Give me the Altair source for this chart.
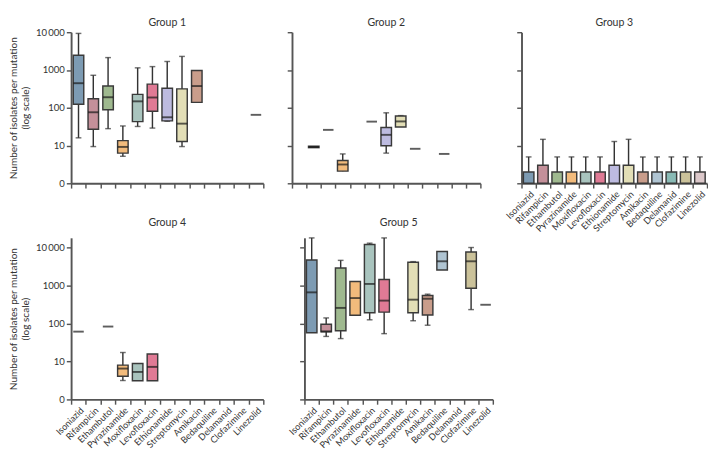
import altair as alt
import pandas as pd

drugs = ["Isoniazid", "Rifampicin", "Ethambutol", "Pyrazinamide", "Moxifloxacin",
         "Levofloxacin", "Ethionamide", "Streptomycin", "Amikacin", "Bedaquiline",
         "Delamanid", "Clofazimine", "Linezolid"]
colors = ["#7D9BB3", "#C4909A", "#9FB98F", "#F2BB7C", "#A9C4BE", "#E07A95", "#BDBBE0",
          "#E2DEB6", "#C99D8B", "#AFC4D2", "#89BAB5", "#CBC29A", "#DCC8CA"]
group_titles = ["Group 1", "Group 2", "Group 3", "Group 4", "Group 5"]

N = None
# Group 1 box statistics (min, q1, median, q3, max) per drug
g1_min = [16, 9.4, 28, 5.2, 32, 29, 44, 9.4, 139, N, N, N, 65]
g1_q1 = [124, 27, 89, 6.3, 43, 81, 45, 12.8, 139, N, N, N, 65]
g1_med = [447, 76, 190, 9.2, 148, 187, 56, 38, 376, N, N, N, 65]
g1_q3 = [2460, 173, 376, 13.5, 226, 422, 328, 316, 970, N, N, N, 65]
g1_max = [9300, 725, 2130, 33, 1140, 1230, 1680, 2290, 970, N, N, N, 65]

# Group 2
g2_min = [N, 8.8, 26, 2.1, N, 43, 6.3, 31, 8.2, N, 6.0, N, N]
g2_q1 = [N, 8.8, 26, 2.1, N, 43, 9.9, 31, 8.2, N, 6.0, N, N]
g2_med = [N, 9.2, 26, 3.15, N, 43, 19.2, 43.5, 8.2, N, 6.0, N, N]
g2_q3 = [N, 9.6, 26, 4.0, N, 43, 30, 60.5, 8.2, N, 6.0, N, N]
g2_max = [N, 9.6, 26, 6.0, N, 43, 73.5, 62, 8.2, N, 6.0, N, N]

# Group 3 (bars with upper error)
g3_val = [2, 3, 2, 2, 2, 2, 3, 3, 2, 2, 2, 2, 2]
g3_err = [5, 14.6, 5, 5, 5, 5, 12.8, 14.6, 5, 5, 5, 5, 5]

# Group 4
g4_min = [61, N, 83, 3.15, 3.1, 3.1, N, N, N, N, N, N, N]
g4_q1 = [61, N, 83, 4.1, 3.1, 3.1, N, N, N, N, N, N, N]
g4_med = [61, N, 83, 6.5, 5.3, 7.2, N, N, N, N, N, N, N]
g4_q3 = [61, N, 83, 8.0, 8.8, 15.7, N, N, N, N, N, N, N]
g4_max = [61, N, 83, 17.2, 8.8, 15.7, N, N, N, N, N, N, N]

# Group 5
g5_min = [57, 45.6, 40, 164, 125, 54, N, 118, 90, 2560, N, 232, 311]
g5_q1 = [57, 60, 64.6, 164, 191, 199, N, 191, 167, 2560, N, 850, 311]
g5_med = [660, 62, 257, 467, 1100, 400, N, 424, 448, 4340, N, 4340, 311]
g5_q3 = [4700, 95.6, 2890, 1280, 12000, 1436, N, 4100, 548, 7900, N, 7600, 311]
g5_max = [17900, 140, 4590, 1280, 13000, 17900, N, 4250, 590, 7900, N, 10000, 311]

yticks = [1, 10, 100, 1000, 10000]
LABEL_EXPR = ("datum.value == 1 ? '0' : datum.value == 10000 ? '10\u2009000' : "
              "format(datum.value, 'd')")
FONT = "Lato"
AXC = "#555555"

color_scale = alt.Scale(domain=drugs, range=colors)


def xaxis(labels):
    return alt.Axis(title=None, tickBand="extent", labels=labels, labelAngle=315,
                    labelAlign="right", labelBaseline="top", labelFont=FONT,
                    labelFontSize=9.5, labelColor="#333333", labelPadding=1,
                    domainColor=AXC, domainWidth=2, tickColor=AXC, tickWidth=1.5,
                    tickSize=5, grid=False)


def yaxis(labels):
    kw = dict(values=yticks, grid=False, domainColor=AXC, domainWidth=2,
              tickColor=AXC, tickWidth=1.5, tickSize=5, labels=labels)
    if labels:
        kw.update(labelExpr=LABEL_EXPR, labelFont=FONT, labelFontSize=10,
                  labelColor="#333333", labelPadding=2,
                  title=["Number of isolates per mutation", "(log scale)"],
                  titleFont=FONT, titleFontSize=10.5, titleFontWeight="normal",
                  titleColor="#333333", titlePadding=5, titleLineHeight=13)
    else:
        kw.update(title=None)
    return alt.Axis(**kw)


def xenc(labels):
    return alt.X("drug:N", scale=alt.Scale(type="band", domain=drugs, paddingInner=0,
                                           paddingOuter=0), axis=xaxis(labels))


def title_layer(text, width, dy):
    return alt.Chart(pd.DataFrame({"t": [text]})).mark_text(
        font=FONT, fontSize=11, color="#333333", align="center", baseline="bottom"
    ).encode(text="t:N", x=alt.value(width / 2), y=alt.value(dy))


def box_panel(mn, q1, md, q3, mx, top, width, height, ylabels, xlabels, title, dy):
    rows = []
    for i, d in enumerate(drugs):
        if md[i] is None:
            continue
        rows.append(dict(drug=d, mn=mn[i], q1=q1[i], med=md[i], q3=q3[i], mx=mx[i]))
    df = pd.DataFrame(rows)
    base = alt.Chart(df)
    ysc = alt.Scale(type="log", domain=[1, top], nice=False)
    ax = yaxis(ylabels)
    Y = lambda f: alt.Y(f + ":Q", scale=ysc, axis=ax)

    whisk = base.transform_filter("datum.mn < datum.mx").mark_rule(
        color="#333333", strokeWidth=1.5).encode(
        x=xenc(xlabels), y=Y("mn"), y2="mx:Q")
    cap_lo = base.transform_filter("datum.mn < datum.q1").mark_tick(
        color="#333333", size=6, thickness=1.5).encode(x=xenc(xlabels), y=Y("mn"))
    cap_hi = base.transform_filter("datum.mx > datum.q3").mark_tick(
        color="#333333", size=6, thickness=1.5).encode(x=xenc(xlabels), y=Y("mx"))
    box = base.transform_filter("datum.q1 < datum.q3").mark_bar(
        width=11, stroke="#3a3a3a", strokeWidth=1.5).encode(
        x=xenc(xlabels), y=Y("q1"), y2="q3:Q",
        color=alt.Color("drug:N", scale=color_scale, legend=None))
    med = base.mark_tick(color="#1a1a1a", size=11, thickness=2).encode(
        x=xenc(xlabels), y=Y("med"))
    return alt.layer(whisk, cap_lo, cap_hi, box, med,
                     title_layer(title, width, dy)).properties(width=width, height=height)


def bar_panel(val, err, top, width, height, title, dy):
    df = pd.DataFrame(dict(drug=drugs, val=val, err=err, base=[1] * len(drugs)))
    base = alt.Chart(df)
    ysc = alt.Scale(type="log", domain=[1, top], nice=False)
    ax = yaxis(False)
    rule = base.mark_rule(color="#333333", strokeWidth=1.5).encode(
        x=xenc(True), y=alt.Y("val:Q", scale=ysc, axis=ax), y2="err:Q")
    cap = base.mark_tick(color="#333333", size=6, thickness=1.5).encode(
        x=xenc(True), y=alt.Y("err:Q", scale=ysc, axis=ax))
    bar = base.mark_bar(width=11, stroke="#3a3a3a", strokeWidth=1.5).encode(
        x=xenc(True), y=alt.Y("val:Q", scale=ysc, axis=ax), y2="base:Q",
        color=alt.Color("drug:N", scale=color_scale, legend=None))
    return alt.layer(rule, cap, bar, title_layer(title, width, dy)).properties(
        width=width, height=height)


H_TOP = 158
H_BOT = 169
p1 = box_panel(g1_min, g1_q1, g1_med, g1_q3, g1_max, 10000, 201, H_TOP, True, False,
               group_titles[0], -4)
p2 = box_panel(g2_min, g2_q1, g2_med, g2_q3, g2_max, 10000, 197, H_TOP, False, False,
               group_titles[1], -4)
p3 = bar_panel(g3_val, g3_err, 10000, 194, H_TOP, group_titles[2], -4)
p4 = box_panel(g4_min, g4_q1, g4_med, g4_q3, g4_max, 18000, 201, H_BOT, True, True,
               group_titles[3], -10)
p5 = box_panel(g5_min, g5_q1, g5_med, g5_q3, g5_max, 18000, 197, H_BOT, False, True,
               group_titles[4], -10)

top_row = alt.hconcat(p1, p2, p3, spacing=23)
bot_row = alt.hconcat(p4, p5, spacing=23)

chart = alt.vconcat(top_row, bot_row, spacing=-17).properties(
    padding={"left": 0, "top": 0, "right": 0, "bottom": 0}
).configure_view(stroke=None)

chart.save("out.html", embed_options={"renderer": "svg", "actions": False})
